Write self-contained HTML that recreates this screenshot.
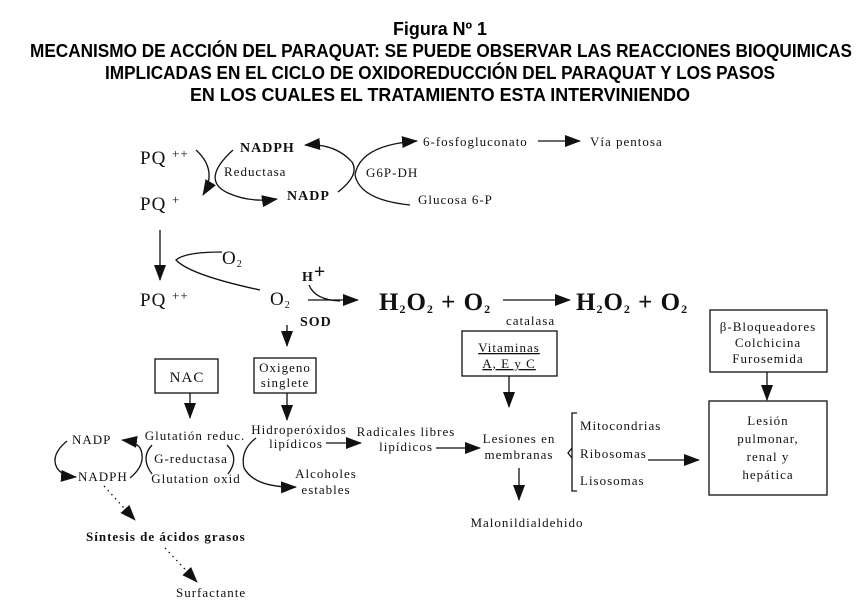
<!DOCTYPE html>
<html><head><meta charset="utf-8"><style>
html,body{margin:0;padding:0;background:#fff;}
svg{display:block;}
.t{font-family:"Liberation Sans",sans-serif;font-weight:bold;font-size:18px;}
.s{font-family:"Liberation Serif",serif;font-size:13px;letter-spacing:1px;fill:#111;}
.b{font-family:"Liberation Serif",serif;font-weight:bold;font-size:14px;letter-spacing:1px;}
.pq{font-family:"Liberation Serif",serif;font-size:19px;letter-spacing:1px;}
.big{font-family:"Liberation Serif",serif;font-weight:bold;font-size:25px;}
</style></head><body>
<svg width="865" height="606" viewBox="0 0 865 606" xmlns="http://www.w3.org/2000/svg">
<defs>
<marker id="A" markerWidth="16" markerHeight="12" refX="15" refY="6" orient="auto" markerUnits="userSpaceOnUse"><path d="M0,0 L16,6 L0,12 z" fill="#111"/></marker></defs>
<g class="t" text-anchor="middle">
<text x="440" y="35" textLength="94" lengthAdjust="spacingAndGlyphs">Figura Nº 1</text>
<text x="441" y="57" textLength="822" lengthAdjust="spacingAndGlyphs">MECANISMO DE ACCIÓN DEL PARAQUAT: SE PUEDE OBSERVAR LAS REACCIONES BIOQUIMICAS</text>
<text x="440" y="79" textLength="670" lengthAdjust="spacingAndGlyphs">IMPLICADAS EN EL CICLO DE OXIDOREDUCCIÓN DEL PARAQUAT Y LOS PASOS</text>
<text x="440" y="101" textLength="500" lengthAdjust="spacingAndGlyphs">EN LOS CUALES EL  TRATAMIENTO ESTA INTERVINIENDO</text>
</g>
<g fill="none" stroke="#111" stroke-width="1.3">
<path d="M196,150 Q218,170 203,195" marker-end="url(#A)"/>
<path d="M233,150 Q200,180 228,193 Q250,203 277,199" marker-end="url(#A)"/>
<path d="M338,192 Q360,175 352,162 Q335,143 305,145" marker-end="url(#A)"/>
<path d="M410,205 Q360,200 355,175 Q360,145 417,141" marker-end="url(#A)"/>
<line x1="538" y1="141" x2="580" y2="141" marker-end="url(#A)"/>
<line x1="160" y1="230" x2="160" y2="280" marker-end="url(#A)"/>
<path d="M222,252 Q185,252 176,260 Q190,275 260,290"/>
<path d="M309,285 Q315,300 340,301"/>
<line x1="308" y1="300" x2="358" y2="300" marker-end="url(#A)"/>
<line x1="503" y1="300" x2="570" y2="300" marker-end="url(#A)"/>
<line x1="287" y1="325" x2="287" y2="346" marker-end="url(#A)"/>
<line x1="287" y1="393" x2="287" y2="420" marker-end="url(#A)"/>
<line x1="190" y1="393" x2="190" y2="418" marker-end="url(#A)"/>
<line x1="509" y1="376" x2="509" y2="407" marker-end="url(#A)"/>
<line x1="767" y1="372" x2="767" y2="400" marker-end="url(#A)"/>
<line x1="326" y1="443" x2="361" y2="443" marker-end="url(#A)"/>
<line x1="436" y1="448" x2="480" y2="448" marker-end="url(#A)"/>
<line x1="519" y1="468" x2="519" y2="500" marker-end="url(#A)"/>
<line x1="648" y1="460" x2="699" y2="460" marker-end="url(#A)"/>
<path d="M67,441 Q50,455 57,468 Q62,476 76,477" marker-end="url(#A)"/>
<path d="M130,478 Q146,465 141,450 Q138,442 122,440" marker-end="url(#A)"/>
<path d="M152,445 Q140,458 152,474"/>
<path d="M227,445 Q240,458 228,474"/>
<path d="M256,438 Q240,450 244,468 Q255,488 296,487" marker-end="url(#A)"/>
<path d="M577,413 L572,413 L572,491 L577,491"/>
<path d="M572,448 L568,453 L572,458"/>
<path d="M104,486 L135,520" stroke-dasharray="1.5,4" marker-end="url(#A)"/>
<path d="M165,548 L197,582" stroke-dasharray="1.5,4" marker-end="url(#A)"/>
<rect x="155" y="359" width="63" height="34"/>
<rect x="254" y="358" width="62" height="35"/>
<rect x="462" y="331" width="95" height="45"/>
<rect x="710" y="310" width="117" height="62"/>
<rect x="709" y="401" width="118" height="94"/>
</g>
<g fill="#111">
<text class="pq" x="140" y="164">PQ <tspan font-size="13" dy="-6">++</tspan></text>
<text class="pq" x="140" y="210">PQ <tspan font-size="13" dy="-6">+</tspan></text>
<text class="pq" x="140" y="306">PQ <tspan font-size="13" dy="-6">++</tspan></text>
<text class="b" x="240" y="152">NADPH</text>
<text class="s" x="224" y="176">Reductasa</text>
<text class="b" x="287" y="200">NADP</text>
<text class="s" x="366" y="177">G6P-DH</text>
<text class="s" x="418" y="204">Glucosa 6-P</text>
<text class="s" x="423" y="146">6-fosfogluconato</text>
<text class="s" x="590" y="146">Vía pentosa</text>
<text class="pq" x="222" y="264" font-size="16">O<tspan font-size="10" dy="3">2</tspan></text>
<text class="pq" x="270" y="305" font-size="16">O<tspan font-size="10" dy="3">2</tspan></text>
<text class="b" x="302" y="281" font-size="17">H<tspan font-size="20" dy="-3">+</tspan></text>
<text class="b" x="300" y="326" font-size="17">SOD</text>
<text class="big" x="379" y="310" letter-spacing="1">H<tspan font-size="12" dy="3">2</tspan><tspan dy="-3">O</tspan><tspan font-size="12" dy="3">2</tspan><tspan dy="-3"> + O</tspan><tspan font-size="12" dy="3">2</tspan></text>
<text class="big" x="576" y="310" letter-spacing="1">H<tspan font-size="12" dy="3">2</tspan><tspan dy="-3">O</tspan><tspan font-size="12" dy="3">2</tspan><tspan dy="-3"> + O</tspan><tspan font-size="12" dy="3">2</tspan></text>
<text class="s" x="506" y="325">catalasa</text>
<g text-anchor="middle" class="s">
<text x="187" y="382" font-size="15">NAC</text>
<text x="285" y="372">Oxigeno</text><text x="285" y="387">singlete</text>
<text x="509" y="352" text-decoration="underline">Vitaminas</text><text x="509" y="368" text-decoration="underline">A, E y C</text>
<text x="768" y="331">β-Bloqueadores</text><text x="768" y="347">Colchicina</text><text x="768" y="363">Furosemida</text>
<text x="768" y="425">Lesión</text><text x="768" y="443">pulmonar,</text><text x="768" y="461">renal y</text><text x="768" y="479">hepática</text>
<text x="195" y="440">Glutatión reduc.</text>
<text x="191" y="463">G-reductasa</text>
<text x="196" y="483">Glutation oxid</text>
<text x="299" y="434">Hidroperóxidos</text>
<text x="296" y="448">lipídicos</text>
<text x="406" y="436">Radicales libres</text>
<text x="406" y="451">lipídicos</text>
<text x="326" y="478">Alcoholes</text>
<text x="326" y="494">estables</text>
<text x="519" y="443">Lesiones en</text>
<text x="519" y="459">membranas</text>
<text x="527" y="527">Malonildialdehido</text>
</g>
<text class="s" x="72" y="444">NADP</text>
<text class="s" x="78" y="481">NADPH</text>
<text class="s" x="580" y="430">Mitocondrias</text>
<text class="s" x="580" y="458">Ribosomas</text>
<text class="s" x="580" y="485">Lisosomas</text>
<text class="s" x="86" y="541" font-weight="bold" font-size="12">Síntesis de ácidos grasos</text>
<text class="s" x="176" y="597">Surfactante</text>
</g>
</svg>
</body></html>
